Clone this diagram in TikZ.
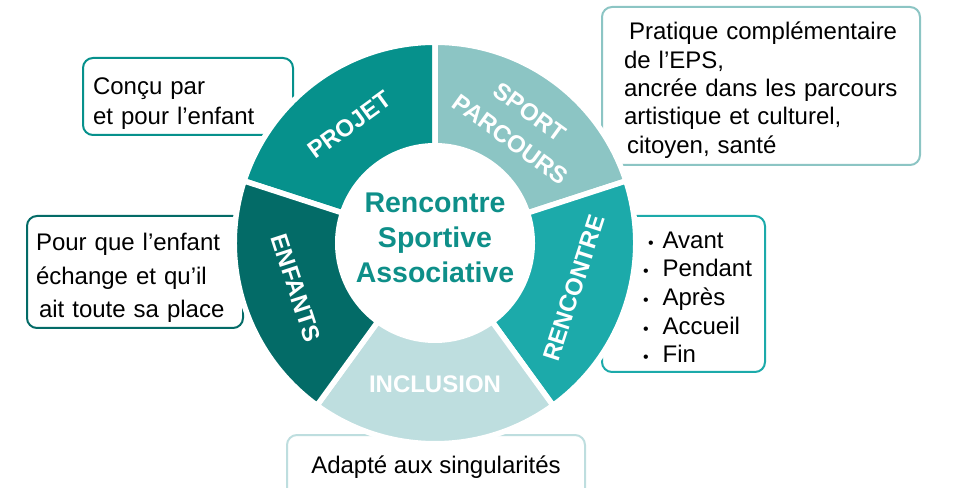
\documentclass[tikz,border=0pt]{standalone}
\usepackage{fontspec}
\setmainfont{Liberation Sans}
\usepackage{tikz}

\definecolor{projetcol}{RGB}{6,145,140}
\definecolor{sportcol}{RGB}{140,197,196}
\definecolor{rencol}{RGB}{28,170,170}
\definecolor{inclcol}{RGB}{190,222,223}
\definecolor{enfcol}{RGB}{3,107,103}
\definecolor{titlecol}{RGB}{14,143,137}
\newcommand{\bul}{{\fontsize{16}{16}\selectfont •}}

\begin{document}
\begin{tikzpicture}[x=1pt,y=1pt]
  \tikzstyle{note} = [rectangle, rounded corners=10pt, line width=2pt, fill=white, align=left, inner ysep=0pt, font=\fontsize{24}{30}\selectfont]
  \tikzstyle{seg} = [draw=white, line width=5.5pt]
  \tikzstyle{lbl} = [text=white, align=center, font=\fontsize{24}{34}\selectfont\bfseries]
  \useasboundingbox (0,0) rectangle (960,487);

  % boxes behind the ring
  \node (note1) [note, draw=projetcol, text width=190pt, inner xsep=10pt, minimum height=77pt] at (188,390.5) {\rule{0pt}{30pt}Conçu par\\et pour l’enfant};
  \node (note2) [note, draw=enfcol, text width=198pt, inner xsep=9pt, minimum height=112pt, font=\fontsize{24}{33.5}\selectfont] at (135,215) {\rule{0pt}{29.5pt}Pour que l’enfant\\échange et qu’il\\\hspace*{3pt}ait toute sa place};
  \node (note3) [note, draw=sportcol, text width=274pt, inner xsep=22pt, minimum height=158pt, font=\fontsize{24}{28.3}\selectfont] at (761,401) {\rule{0pt}{26pt}\hspace*{5pt}Pratique complémentaire\\de l’EPS,\\ancrée dans les parcours\\artistique et culturel,\\\hspace*{3pt}citoyen, santé};
  \node (note4) [note, draw=rencol, text width=143pt, inner xsep=10pt, minimum height=156pt, font=\fontsize{24}{28.7}\selectfont] at (683.5,193) {\rule{0pt}{23pt}\hspace*{36pt}\bul\hspace{9pt}Avant\\\hspace*{31pt}\bul\hspace{14pt}Pendant\\\hspace*{31pt}\bul\hspace{14pt}Après\\\hspace*{31pt}\bul\hspace{14pt}Accueil\\\hspace*{31pt}\bul\hspace{14pt}Fin};
  \node (note5) [note, draw=inclcol, align=center, minimum width=298pt, minimum height=63.5pt] at (436,20.25) {Adapté aux singularités};

  % ring
  \begin{scope}[shift={(435,244)}]
    \filldraw[seg, fill=projetcol] (90:200.75) arc[start angle=90, end angle=162, radius=200.75] -- (162:97.25) arc[start angle=162, end angle=90, radius=97.25] -- cycle;
    \filldraw[seg, fill=sportcol] (18:200.75) arc[start angle=18, end angle=90, radius=200.75] -- (90:97.25) arc[start angle=90, end angle=18, radius=97.25] -- cycle;
    \filldraw[seg, fill=rencol] (-54:200.75) arc[start angle=-54, end angle=18, radius=200.75] -- (18:97.25) arc[start angle=18, end angle=-54, radius=97.25] -- cycle;
    \filldraw[seg, fill=inclcol] (-126:200.75) arc[start angle=-126, end angle=-54, radius=200.75] -- (-54:97.25) arc[start angle=-54, end angle=-126, radius=97.25] -- cycle;
    \filldraw[seg, fill=enfcol] (162:200.75) arc[start angle=162, end angle=234, radius=200.75] -- (234:97.25) arc[start angle=234, end angle=162, radius=97.25] -- cycle;

    \node (projet) [lbl, rotate=36] at (126:146) {PROJET};
    \node (sport) [lbl, rotate=-36] at (54:145) {SPORT\\PARCOURS};
    \node (rencontre) [lbl, rotate=72] at (-18:146) {RENCONTRE};
    \node (inclusion) [lbl] at (-90:141) {INCLUSION};
    \node (enfants) [lbl, rotate=-72] at (198:146) {ENFANTS};

    \node (centre) [text=titlecol, align=center, font=\fontsize{28.5}{35}\selectfont\bfseries] at (0,5.6) {Rencontre\\Sportive\\Associative};
  \end{scope}
\end{tikzpicture}
\end{document}
